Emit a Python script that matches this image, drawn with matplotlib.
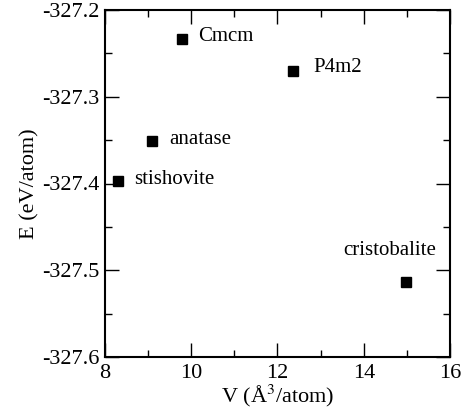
import matplotlib
matplotlib.use("Agg")
import matplotlib.pyplot as plt
from matplotlib.ticker import MultipleLocator, FormatStrFormatter

plt.rcParams['font.family'] = ['Liberation Serif', 'DejaVu Serif']
plt.rcParams['mathtext.fontset'] = 'stix'

# phase data
phases = ["stishovite", "anatase", "Cmcm", "P4m2", "cristobalite"]
volume = [8.29, 9.10, 9.78, 12.37, 14.98]
energy = [-327.397, -327.351, -327.234, -327.270, -327.513]
# label offsets in points (dx, dy) and alignment
label_offsets = [(12, 1), (12, 1), (12, 2), (14, 2), (-12, 22)]
label_ha = ["left", "left", "left", "left", "center"]

fig = plt.figure(figsize=(4.7, 4.18), dpi=100)
ax = fig.add_axes([105/470, 1 - 357/418, 345/470, 347/418])

ax.plot(volume, energy, linestyle="none", marker="s", markersize=6.5, color="black")

for name, x, y, (dx, dy), ha in zip(phases, volume, energy, label_offsets, label_ha):
    ax.annotate(name, (x, y), xytext=(dx, dy), textcoords="offset points",
                ha=ha, va="center", fontsize=15)

ax.set_xlim(8, 16)
ax.set_ylim(-327.6, -327.2)
ax.xaxis.set_major_locator(MultipleLocator(2))
ax.xaxis.set_minor_locator(MultipleLocator(1))
ax.yaxis.set_major_locator(MultipleLocator(0.1))
ax.yaxis.set_minor_locator(MultipleLocator(0.05))
ax.yaxis.set_major_formatter(FormatStrFormatter("%.1f"))

ax.tick_params(which="both", direction="in", top=True, right=True, labelsize=16, width=1)
ax.tick_params(which="major", length=10)
ax.tick_params(axis="y", which="major", pad=4)
ax.tick_params(axis="x", which="major", pad=5)
ax.tick_params(which="minor", length=5)
for s in ax.spines.values():
    s.set_linewidth(1.5)

ax.set_xlabel("V (Å$^3$/atom)", fontsize=16, labelpad=0)
ax.set_ylabel("E (eV/atom)", fontsize=16, labelpad=2)

fig.savefig("out.png", dpi=100)
